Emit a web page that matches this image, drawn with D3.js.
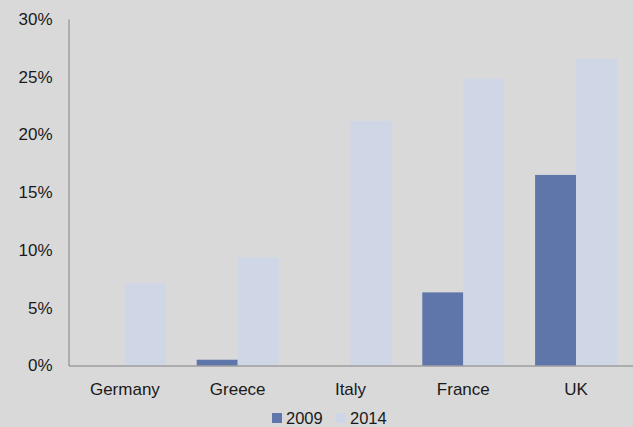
<!DOCTYPE html>
<html>
<head>
<meta charset="utf-8">
<script src="https://cdn.jsdelivr.net/npm/d3@7"></script>
<style>
  html, body { margin: 0; padding: 0; background: #d9d9d9; }
  svg { display: block; }
  text { font-family: "Liberation Sans", Arial, sans-serif; fill: #1a1a1a; }
</style>
</head>
<body>
<svg id="chart" width="633" height="427"></svg>
<script>
const categories = ["Germany", "Greece", "Italy", "France", "UK"];
const seriesNames = ["2009", "2014"];
const values2009 = [0, 0.5, 0, 6.33, 16.5];
const values2014 = [7.1, 9.37, 21.18, 24.82, 26.55];
const yTicks = [0, 5, 10, 15, 20, 25, 30];
const colors = ["#5e76a9", "#cfd6e5"];

const svg = d3.select("#chart");
svg.append("rect").attr("width", 633).attr("height", 427).attr("fill", "#d9d9d9");

const x0 = d3.scaleBand().domain(categories).range([68.5, 632.5])
  .paddingInner(0.273).paddingOuter(0.1365);
const x1 = d3.scaleBand().domain(seriesNames).range([0, x0.bandwidth()]).padding(0);
const y = d3.scaleLinear().domain([0, 30]).range([365.5, 19]);

const data = categories.map((c, i) => ({cat: c, vals: [values2009[i], values2014[i]]}));

const g = svg.append("g");
data.forEach(d => {
  d.vals.forEach((v, j) => {
    if (v <= 0) return;
    g.append("rect")
      .attr("x", x0(d.cat) + x1(seriesNames[j]))
      .attr("width", x1.bandwidth())
      .attr("y", y(v))
      .attr("height", y(0) - y(v))
      .attr("fill", colors[j]);
  });
});

// Y axis
const yAxis = d3.axisLeft(y).tickValues(yTicks).tickFormat(d => d + "%").tickSize(0).tickPadding(16);
const ya = svg.append("g").attr("transform", "translate(68.5,0)").call(yAxis);
ya.select(".domain").attr("stroke", "#808080").attr("stroke-width", 1);
ya.selectAll("text").style("font-size", "17px").style("fill", "#1a1a1a")
  .style("font-family", "'Liberation Sans', Arial, sans-serif");

// X axis
const xAxis = d3.axisBottom(x0).tickSize(0).tickPadding(17);
const xa = svg.append("g").attr("transform", "translate(0,365.5)").call(xAxis);
xa.select(".domain").attr("stroke", "#808080").attr("stroke-width", 1);
xa.selectAll("text").style("font-size", "17px").style("fill", "#1a1a1a")
  .style("font-family", "'Liberation Sans', Arial, sans-serif");

// Legend
const legendX = [272, 336];
seriesNames.forEach((s, j) => {
  svg.append("rect").attr("x", legendX[j]).attr("y", 413).attr("width", 10).attr("height", 10)
    .attr("fill", colors[j]);
  svg.append("text").attr("x", legendX[j] + 14).attr("y", 423.5)
    .style("font-size", "16.5px").text(s);
});
</script>
</body>
</html>
